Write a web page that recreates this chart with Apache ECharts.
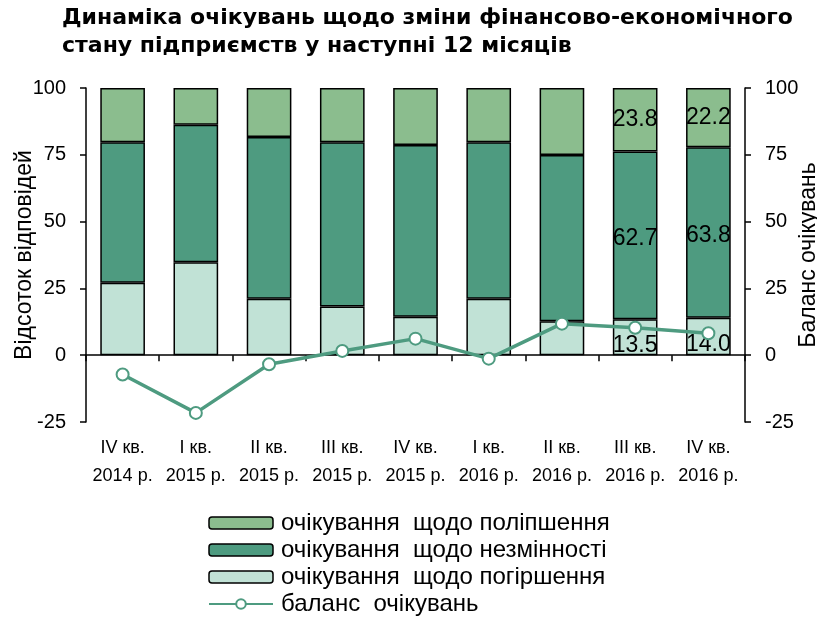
<!DOCTYPE html>
<html>
<head>
<meta charset="utf-8">
<script src="https://cdn.jsdelivr.net/npm/echarts@6/dist/echarts.min.js"></script>
<style>
  html, body { margin: 0; padding: 0; background: #fff; }
  #chart { width: 817px; height: 619px; }
</style>
</head>
<body>
<div id="chart"></div>
<script>
const quarters = ['IV кв.', 'I кв.', 'II кв.', 'III кв.', 'IV кв.', 'I кв.', 'II кв.', 'III кв.', 'IV кв.']
const years = ['2014 р.', '2015 р.', '2015 р.', '2015 р.', '2015 р.', '2016 р.', '2016 р.', '2016 р.', '2016 р.']
const categories = quarters.map((q, i) => q + '\n' + years[i])

// очікування щодо погіршення / незмінності / поліпшення
const worsen = [27.1, 34.8, 21.1, 18.2, 14.4, 21.1, 12.7, 13.5, 14.0]
const unchanged = [52.6, 51.4, 60.6, 61.5, 64.3, 58.6, 62.2, 62.7, 63.8]
const improve = [20.3, 13.8, 18.3, 20.3, 21.3, 20.3, 25.1, 23.8, 22.2]
const balance = [-7.2, -21.6, -3.4, 1.6, 6.2, -1.3, 11.8, 10.3, 8.2]
const labelled = [7, 8] // підписи лише для двох останніх кварталів

const names = [
  'очікування  щодо поліпшення',
  'очікування  щодо незмінності',
  'очікування  щодо погіршення',
  'баланс  очікувань'
]
const colors = ['#8bbd8e', '#4e9b80', '#c1e2d6']
const font = 'Liberation Sans, Arial, sans-serif'

const chart = echarts.init(document.getElementById('chart'))

const barData = (arr) =>
  arr.map((v, i) => ({
    value: v,
    label: { show: labelled.includes(i) }
  }))

const barSeries = (name, arr, color, labelOffset) => ({
  name: name,
  type: 'bar',
  stack: 'total',
  barWidth: '61%',
  data: barData(arr),
  itemStyle: { color: color, borderColor: '#000', borderWidth: 1.5 },
  label: {
    position: 'inside',
    offset: labelOffset,
    color: '#000',
    fontSize: 23,
    fontFamily: font,
    formatter: (p) => p.value.toFixed(1)
  },
  emphasis: { disabled: true }
})

const axisText = { fontFamily: font, fontSize: 20, color: '#000' }
const nameText = { fontFamily: font, fontSize: 23, color: '#000' }

const option = {
  animation: false,
  title: {
    text: 'Динаміка очікувань щодо зміни фінансово-економічного\nстану підприємств у наступні 12 місяців',
    left: 62,
    top: 4,
    padding: 0,
    textStyle: {
      fontFamily: 'DejaVu Sans, sans-serif',
      fontSize: 22,
      fontWeight: 'bold',
      color: '#000',
      lineHeight: 28
    }
  },
  grid: { left: 86, right: 72, top: 88, bottom: 197, outerBoundsMode: 'none' },
  legend: {
    orient: 'vertical',
    left: 208,
    top: 511,
    padding: 0,
    itemWidth: 64,
    itemHeight: 12,
    itemGap: 3,
    textStyle: { fontFamily: font, fontSize: 24, color: '#000', padding: [0, 0, 0, 3] },
    data: [
      { name: names[0], itemStyle: { borderColor: '#000', borderWidth: 1.5 } },
      { name: names[1], itemStyle: { borderColor: '#000', borderWidth: 1.5 } },
      { name: names[2], itemStyle: { borderColor: '#000', borderWidth: 1.5 } },
      { name: names[3] }
    ]
  },
  xAxis: [
    {
      type: 'category',
      data: categories,
      axisLine: { onZero: true, lineStyle: { color: '#000', width: 1.5 } },
      axisTick: { show: true, length: 6, lineStyle: { color: '#000', width: 1.5 } },
      axisLabel: { show: false }
    },
    {
      type: 'category',
      data: categories,
      position: 'bottom',
      axisLine: { show: false },
      axisTick: { show: false },
      axisLabel: {
        interval: 0,
        margin: 12,
        fontFamily: font,
        fontSize: 18,
        lineHeight: 28,
        color: '#000'
      }
    }
  ],
  yAxis: [
    {
      type: 'value',
      min: -25,
      max: 100,
      interval: 25,
      name: 'Відсоток відповідей',
      nameLocation: 'middle',
      nameGap: 50,
      nameMoveOverlap: false,
      nameTextStyle: nameText,
      axisLine: { show: true, lineStyle: { color: '#000', width: 1.5 } },
      axisTick: { show: true, length: 6, lineStyle: { color: '#000', width: 1.5 } },
      axisLabel: Object.assign({ margin: 20 }, axisText),
      splitLine: { show: false }
    },
    {
      type: 'value',
      min: -25,
      max: 100,
      interval: 25,
      position: 'right',
      name: 'Баланс очікувань',
      nameLocation: 'middle',
      nameGap: 52,
      nameRotate: 90,
      nameMoveOverlap: false,
      nameTextStyle: nameText,
      axisLine: { show: true, lineStyle: { color: '#000', width: 1.5 } },
      axisTick: { show: true, length: 6, lineStyle: { color: '#000', width: 1.5 } },
      axisLabel: Object.assign({ margin: 20 }, axisText),
      splitLine: { show: false }
    }
  ],
  series: [
    barSeries(names[2], worsen, colors[2], [0, 8]),
    barSeries(names[1], unchanged, colors[1], [0, 3]),
    barSeries(names[0], improve, colors[0], [0, 0]),
    {
      name: names[3],
      type: 'line',
      yAxisIndex: 1,
      data: balance,
      symbol: 'circle',
      symbolSize: 12,
      lineStyle: { color: colors[1], width: 3.5 },
      itemStyle: { color: '#fff', borderColor: colors[1], borderWidth: 2 },
      emphasis: { disabled: true }
    }
  ]
}

chart.setOption(option)
</script>
</body>
</html>
